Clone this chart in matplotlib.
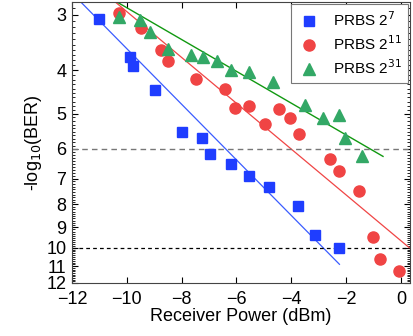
import numpy as np
import matplotlib
matplotlib.use("Agg")
import matplotlib.pyplot as plt
from matplotlib.ticker import FixedLocator, NullFormatter

plt.rcParams['font.family'] = ['Liberation Sans', 'DejaVu Sans']

# measured data: receiver power (dBm) vs -log10(BER)
blue_x = [-11.0, -9.9, -9.78, -8.98, -7.98, -7.27, -6.95, -6.21, -5.55, -4.81, -3.75, -3.14, -2.24]
blue_y = [3.06, 3.73, 3.92, 4.42, 5.49, 5.66, 6.17, 6.48, 6.91, 7.32, 8.06, 9.35, 10.0]

red_x = [-10.27, -9.5, -8.75, -8.49, -7.49, -6.41, -6.06, -5.54, -4.96, -4.45, -4.03, -3.73,
         -2.6, -2.26, -1.53, -1.02, -0.77, -0.08]
red_y = [2.97, 3.21, 3.61, 3.82, 4.18, 4.41, 4.85, 4.80, 5.27, 4.88, 5.11, 5.55,
         6.34, 6.73, 7.45, 9.45, 10.62, 11.3]

green_x = [-10.3, -9.53, -9.17, -8.5, -7.66, -7.22, -6.7, -6.18, -5.54, -4.66, -3.48, -2.85,
           -2.26, -2.05, -1.43]
green_y = [3.04, 3.08, 3.28, 3.58, 3.70, 3.74, 3.81, 4.0, 4.04, 4.24, 4.78, 5.13,
           5.05, 5.68, 6.22]

# fitted lines (end points)
blue_fit_x = [-11.68, -2.24]
blue_fit_y = [2.81, 10.9]
red_fit_x = [-10.42, 0.33]
red_fit_y = [2.81, 10.03]
green_fit_x = [-10.36, -0.65]
green_fit_y = [2.81, 6.24]

# BER limits
thresholds = [6, 10]

fig = plt.figure(figsize=(4.14, 3.36), dpi=100)
ax = fig.add_axes([0.174, 0.158, 0.816, 0.836])
ax.set_yscale('log')

ax.plot(blue_fit_x, blue_fit_y, color='#3a5cff', lw=0.9)
ax.plot(red_fit_x, red_fit_y, color='#f04545', lw=0.9)
ax.plot(green_fit_x, green_fit_y, color='#119911', lw=1.0)

ax.axhline(thresholds[0], color='#777777', lw=1.0, ls=(0, (4, 3)))
ax.axhline(thresholds[1], color='black', lw=0.9, ls=(0, (3, 2.5)))

ax.plot(blue_x, blue_y, 's', color='#1f3dff', ms=7, mec='#1f3dff', label=r'PRBS 2$^{7}$')
ax.plot(red_x, red_y, 'o', color='#f04444', ms=8, label=r'PRBS 2$^{11}$')
ax.plot(green_x, green_y, '^', color='#33a866', ms=8.5, label=r'PRBS 2$^{31}$')

ax.set_xlim(-12, 0.33)
ax.set_ylim(12, 2.81)

yt = [3, 4, 5, 6, 7, 8, 9, 10, 11, 12]
ax.yaxis.set_major_locator(FixedLocator(yt))
ax.set_yticklabels([str(v) for v in yt])
ax.yaxis.set_minor_locator(FixedLocator(np.arange(2.9, 12.0, 0.1)))
ax.yaxis.set_minor_formatter(NullFormatter())
ax.set_xticks([-12, -10, -8, -6, -4, -2, 0])

ax.tick_params(which='both', direction='in', top=True, right=True, labelsize=13)
ax.tick_params(which='major', length=4, width=0.8)
ax.tick_params(which='minor', length=2, width=0.6)
ax.tick_params(axis='x', pad=6)
ax.tick_params(axis='y', pad=4)
for s in ax.spines.values():
    s.set_color('#444444')

ax.set_xlabel('Receiver Power (dBm)', fontsize=13, labelpad=0)
ax.set_ylabel(r'-log$_{10}$(BER)', fontsize=13, labelpad=2)

leg = ax.legend(loc='upper right', fontsize=11, fancybox=False, edgecolor='#777777',
                framealpha=1, borderaxespad=0.15, handletextpad=0.8, labelspacing=0.35,
                handlelength=1.5)
leg.get_frame().set_linewidth(0.8)

fig.savefig('out.png', dpi=100)
